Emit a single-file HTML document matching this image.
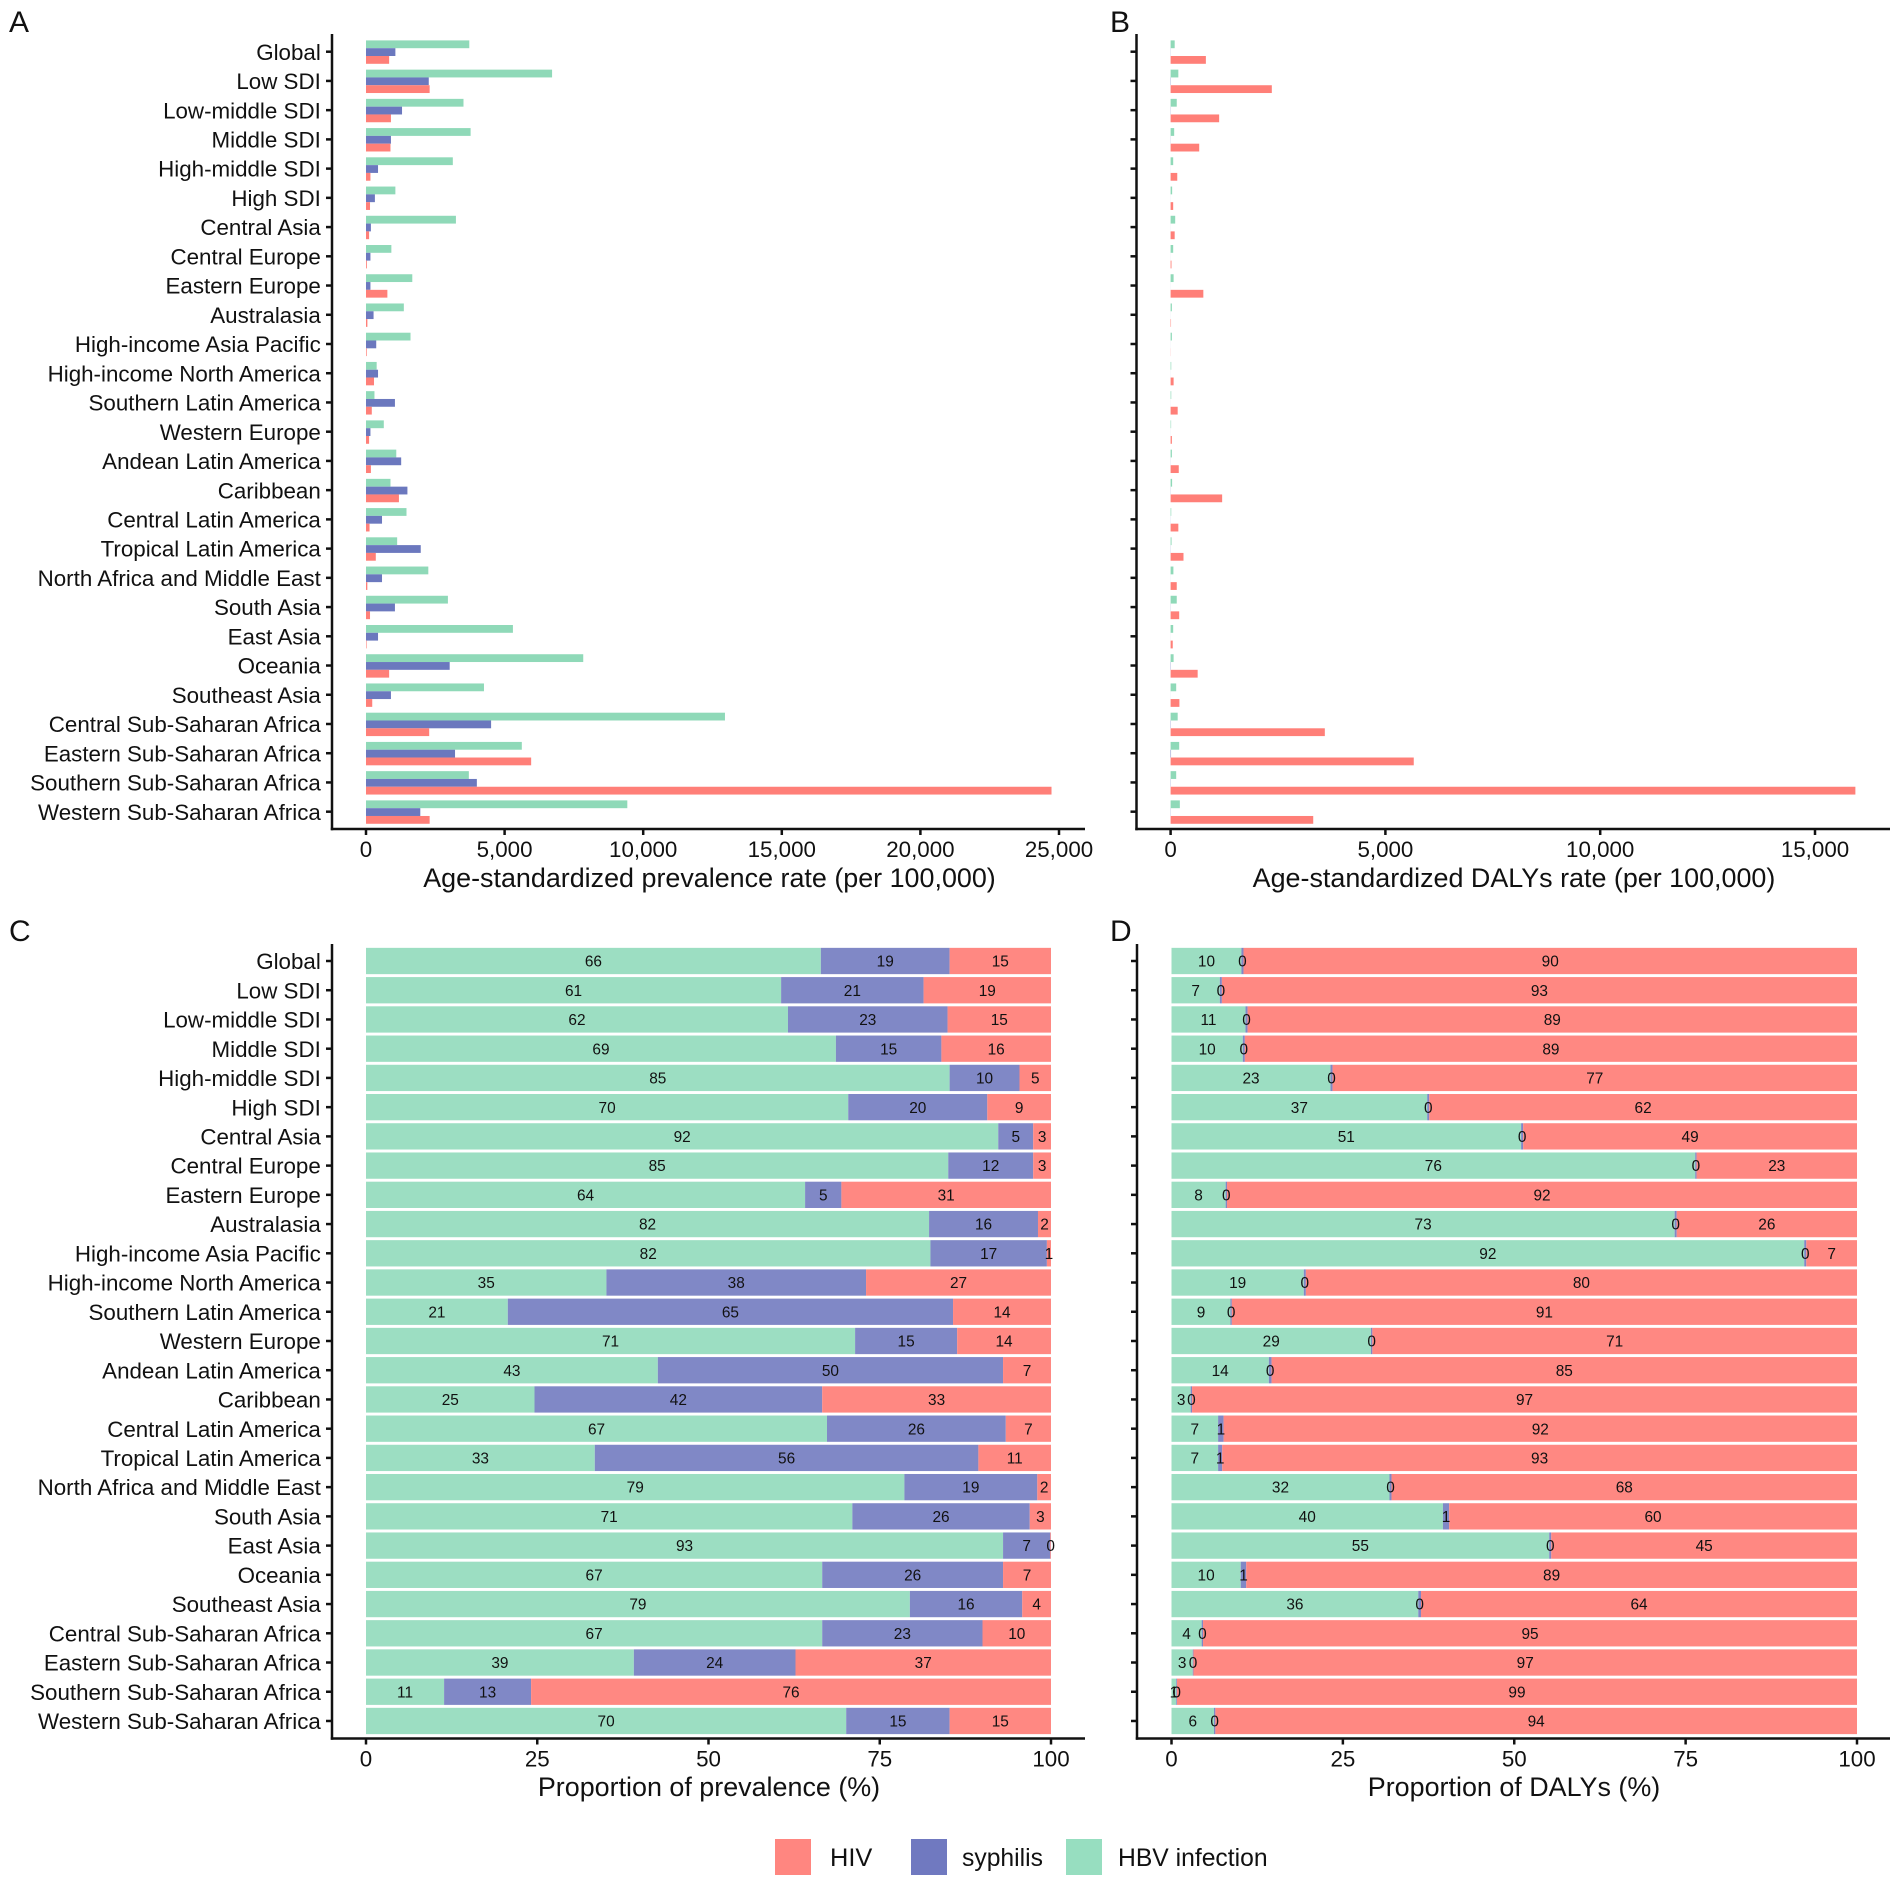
<!DOCTYPE html>
<html lang="en">
<head>
<meta charset="utf-8">
<title>Age-standardized prevalence and DALYs by region</title>
<style>
html,body{margin:0;padding:0;background:#fff;}
body{width:1902px;height:1886px;overflow:hidden;}
svg{display:block;font-family:"Liberation Sans",Arial,sans-serif;fill:#111;}
</style>
</head>
<body>
<svg id="figure" xmlns="http://www.w3.org/2000/svg" width="1902" height="1886" viewBox="0 0 1902 1886">
  <rect x="0" y="0" width="1902" height="1886" fill="#fff"/>
  <text x="9" y="32" font-size="30">A</text>
  <text x="1110" y="32" font-size="30">B</text>
  <text x="9" y="941" font-size="30">C</text>
  <text x="1110" y="941" font-size="30">D</text>
  <text x="709.5" y="887" font-size="26.9" text-anchor="middle">Age-standardized prevalence rate (per 100,000)</text>
  <text x="1514" y="887" font-size="26.9" text-anchor="middle">Age-standardized DALYs rate (per 100,000)</text>
  <text x="709" y="1796" font-size="26.9" text-anchor="middle">Proportion of prevalence (%)</text>
  <text x="1514" y="1796" font-size="26.9" text-anchor="middle">Proportion of DALYs (%)</text>
  <g>
    <rect x="775" y="1839" width="36" height="36" fill="#FF8680"/>
    <text x="830" y="1866" font-size="25.4">HIV</text>
    <rect x="911" y="1839" width="36" height="36" fill="#7079C0"/>
    <text x="962" y="1866" font-size="24.7">syphilis</text>
    <rect x="1066" y="1839" width="36" height="36" fill="#97DEC0"/>
    <text x="1118" y="1866" font-size="24.7">HBV infection</text>
  </g>
</svg>
<script>
const categories = ["Global","Low SDI","Low-middle SDI","Middle SDI","High-middle SDI","High SDI","Central Asia","Central Europe","Eastern Europe","Australasia","High-income Asia Pacific","High-income North America","Southern Latin America","Western Europe","Andean Latin America","Caribbean","Central Latin America","Tropical Latin America","North Africa and Middle East","South Asia","East Asia","Oceania","Southeast Asia","Central Sub-Saharan Africa","Eastern Sub-Saharan Africa","Southern Sub-Saharan Africa","Western Sub-Saharan Africa"];

const prevalenceHbv = [3726,6713,3517,3774,3132,1060,3244,915,1670,1365,1606,385,305,642,1092,883,1461,1124,2248,2955,5300,7837,4256,12950,5621,3710,9427];
const prevalenceSyphilis = [1060,2264,1300,900,434,321,177,160,160,273,369,434,1044,160,1269,1494,578,1975,578,1044,434,3019,900,4513,3212,3999,1959];
const prevalenceHiv = [835,2296,900,883,160,145,112,30,771,50,25,289,209,112,177,1188,128,353,48,145,20,835,225,2280,5958,24730,2296];

const dalysHbv = [95,180,143,83,60,36,107,60,70,30,30,15,15,12,30,35,15,22,65,143,60,70,130,165,200,130,215];
const dalysSyphilis = [3,6,4,3,1,1,1,1,1,1,1,1,1,1,2,3,2,3,1,3,1,6,1,6,10,5,4];
const dalysHiv = [821,2356,1130,666,155,60,95,20,762,10,3,70,165,30,190,1200,180,300,143,200,50,630,205,3590,5660,15940,3320];

const prevShareHbv = [66.4,60.6,61.6,68.6,85.2,70.4,92.3,85.0,64.1,82.2,82.4,35.1,20.7,71.4,42.6,24.6,67.3,33.4,78.6,71.0,93.0,66.6,79.4,66.6,39.1,11.4,70.1];
const prevShareSyphilis = [18.8,20.8,23.3,15.4,10.2,20.3,5.1,12.4,5.3,15.9,17.0,37.9,65.0,14.9,50.4,42.0,26.1,56.0,19.4,25.9,6.9,26.4,16.4,23.4,23.6,12.7,15.1];
const prevShareHiv = [14.8,18.6,15.1,16.0,4.6,9.3,2.6,2.6,30.6,1.9,0.6,27.0,14.3,13.7,7.0,33.4,6.6,10.6,2.0,3.1,0.1,7.0,4.2,10.0,37.3,75.9,14.8];

const dalyShareHbv = [10.2,7.05,10.8,10.4,23.2,37.3,51.0,76.4,7.9,73.4,92.3,19.3,8.6,29.1,14.2,2.8,6.8,6.8,31.8,39.6,55.1,10.1,36.0,4.4,3.1,0.7,6.2];
const dalyShareSyphilis = [0.3,0.3,0.3,0.3,0.3,0.3,0.3,0.2,0.2,0.3,0.3,0.3,0.2,0.2,0.4,0.2,0.8,0.6,0.3,0.9,0.3,0.8,0.4,0.2,0.1,0.1,0.2];
const dalyShareHiv = [89.5,92.65,88.9,89.3,76.5,62.4,48.7,23.4,91.9,26.3,7.4,80.4,91.2,70.7,85.4,97.0,92.4,92.6,67.9,59.5,44.6,89.1,63.6,95.4,96.8,99.2,93.6];

const rateTicksA = [0,5000,10000,15000,20000,25000];
const rateTicksB = [0,5000,10000,15000];
const shareTicks = [0,25,50,75,100];

const NS = 'http://www.w3.org/2000/svg';
const fig = document.getElementById('figure');
const AXIS = '#111';
const BAR_COLORS = {hbv:'#8FD9B8', syphilis:'#6B78BE', hiv:'#FF7F78'};
const STACK_COLORS = {hbv:'#9CDEC2', syphilis:'#8088C6', hiv:'#FF8882'};

function make(tag, parent, attrs, text){
  const el = document.createElementNS(NS, tag);
  for(const k in attrs){ el.setAttribute(k, attrs[k]); }
  if(text !== undefined){ el.textContent = text; }
  parent.appendChild(el);
  return el;
}
function fmt(v){ return v.toLocaleString('en-US'); }

function makeAxes(panel, opt){
  const g = make('g', fig, {});
  
  

  const yLine = make('line', g, {x1:opt.axisX, x2:opt.axisX, y1:opt.top, y2:opt.bottom + 1.2, stroke:AXIS, 'stroke-width':2.5});
  
  

  const xLine = make('line', g, {x1:opt.axisX - 1.2, x2:opt.right, y1:opt.bottom, y2:opt.bottom, stroke:AXIS, 'stroke-width':2.5});
  
  

  categories.forEach(function(name, i){
    const y = opt.yScale(i);
    const tick = make('line', g, {x1:opt.axisX - 6, x2:opt.axisX, y1:y, y2:y, stroke:AXIS, 'stroke-width':2.5});
    
    
    if(opt.showLabels){
      const label = make('text', g, {x:320.8, y:y + 8.1, 'font-size':22.35, 'text-anchor':'end'}, name);
      
      
    }
  });

  opt.ticks.forEach(function(t){
    const x = opt.xScale(t);
    const tick = make('line', g, {x1:x, x2:x, y1:opt.bottom, y2:opt.bottom + 6, stroke:AXIS, 'stroke-width':2.5});
    
    
    const label = make('text', g, {x:x, y:opt.bottom + 28, 'font-size':22.35, 'text-anchor':'middle'}, fmt(t));
    
    
  });
}

function groupedBars(panel, opt, hbv, syphilis, hiv){
  const g = make('g', fig, {});
  
  
  const h = 7.8;
  const rows = [[hbv,'hbv',-1.5],[syphilis,'syphilis',-0.5],[hiv,'hiv',0.5]];
  rows.forEach(function(row){
    row[0].forEach(function(v, i){
      const rect = make('rect', g, {x:opt.xScale(0), y:opt.yScale(i) + 0.4 + row[2] * h, width:opt.xScale(v) - opt.xScale(0), height:h, fill:BAR_COLORS[row[1]]});
      
      
    });
  });
}

function stackedBars(panel, opt, hbv, syphilis, hiv){
  const g = make('g', fig, {});
  
  
  const h = 26.3;
  categories.forEach(function(name, i){
    const y = opt.yScale(i);
    let start = 0;
    const parts = [[hbv[i],'hbv'],[syphilis[i],'syphilis'],[hiv[i],'hiv']];
    parts.forEach(function(part){
      const x0 = opt.xScale(start);
      const x1 = opt.xScale(start + part[0]);
      const rect = make('rect', g, {x:x0, y:y - h / 2, width:x1 - x0, height:h, fill:STACK_COLORS[part[1]]});
      
      
      start += part[0];
    });
    start = 0;
    parts.forEach(function(part){
      const mid = opt.xScale(start + part[0] / 2);
      const label = make('text', g, {x:mid, y:y + 5.6, 'font-size':15.4, 'text-anchor':'middle'}, String(Math.round(part[0])));
      
      
      start += part[0];
    });
  });
}

function yScaleFrom(first){ return function(i){ return first + i * 29.23; }; }
function linear(x0, pxPerUnit){ return function(v){ return x0 + v * pxPerUnit; }; }

const panelA = {axisX:332, right:1085, top:34, bottom:829, yScale:yScaleFrom(51.7), xScale:linear(366, 138.6 / 5000), ticks:rateTicksA, showLabels:true};
const panelB = {axisX:1136.5, right:1890, top:34, bottom:829, yScale:yScaleFrom(51.7), xScale:linear(1170.6, 214.8 / 5000), ticks:rateTicksB, showLabels:false};
const panelC = {axisX:332, right:1085, top:944, bottom:1738.5, yScale:yScaleFrom(961), xScale:linear(366, 6.85), ticks:shareTicks, showLabels:true};
const panelD = {axisX:1137, right:1890, top:944, bottom:1738.5, yScale:yScaleFrom(961), xScale:linear(1171.5, 6.855), ticks:shareTicks, showLabels:false};

groupedBars('a', panelA, prevalenceHbv, prevalenceSyphilis, prevalenceHiv);
groupedBars('b', panelB, dalysHbv, dalysSyphilis, dalysHiv);
stackedBars('c', panelC, prevShareHbv, prevShareSyphilis, prevShareHiv);
stackedBars('d', panelD, dalyShareHbv, dalyShareSyphilis, dalyShareHiv);
makeAxes('a', panelA);
makeAxes('b', panelB);
makeAxes('c', panelC);
makeAxes('d', panelD);
</script>
</body>
</html>
